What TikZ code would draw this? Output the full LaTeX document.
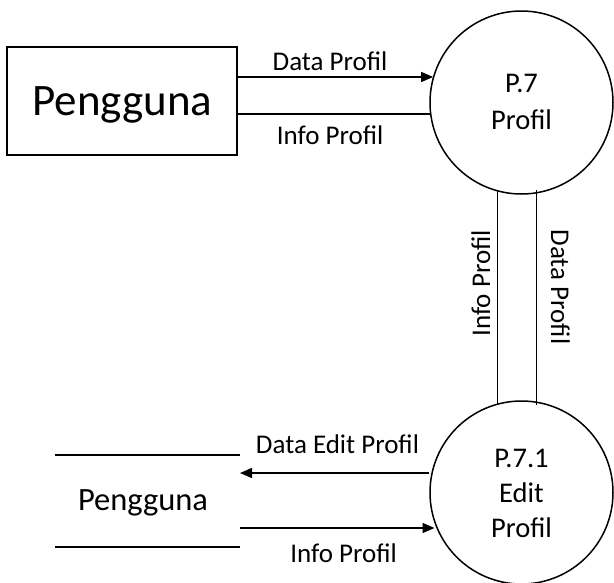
\documentclass[tikz,border=0pt]{standalone}
\usepackage{fontspec}
\setmainfont{Carlito}
\usetikzlibrary{arrows.meta,calc}
\begin{document}
\begin{tikzpicture}[x=1pt,y=-1pt,
  line width=1.5pt,
  flow/.style={-{Triangle[length=12pt,width=10pt]}},
  proc/.style={draw,circle,minimum size=183pt,inner sep=0pt},
  ptxt/.style={anchor=base,inner sep=0pt,font=\fontsize{28.5}{34}\selectfont},
  lbl/.style={anchor=base,inner sep=0pt,font=\fontsize{27}{32}\selectfont}]
\useasboundingbox (0,0) rectangle (614,582);

% external entity
\node[draw,minimum width=230pt,minimum height=108pt,inner sep=0pt] (user) at (122,101) {};
\node[anchor=base,inner sep=0pt,font=\fontsize{45}{52}\selectfont] (usertxt) at (122.5,115) {Pengguna};

% processes
\node[proc] (p7) at (521.5,102.5) {};
\node[ptxt] (p7a) at (521.5,92.5) {P.7};
\node[ptxt] (p7b) at (521.5,129) {Profil};

\node[proc] (p71) at (521.5,492.5) {};
\node[ptxt] (p71a) at (521.5,467) {P.7.1};
\node[ptxt] (p71b) at (521.5,502) {Edit};
\node[ptxt] (p71c) at (521.5,537) {Profil};

% data store
\coordinate (s1a) at (55,455);
\coordinate (s1b) at (240,455);
\coordinate (s2a) at (55,547);
\coordinate (s2b) at (240,547);
\draw (s1a) -- (s1b);
\draw (s2a) -- (s2b);
\node[anchor=base,inner sep=0pt,font=\fontsize{32.5}{38}\selectfont] (store) at (143,510) {Pengguna};

% flows between entity and P.7
\draw[flow] (user.east |- 0,77) -- ($(p7.center)+(-88.4,-25.5)$);
\draw (user.east |- 0,114) -- ($(p7.center)+(-91.5,11.5)$);
\node[lbl] (l1) at (330,70) {Data Profil};
\node[lbl] (l2) at (330,144) {Info Profil};

% flows between P.7 and P.7.1
\draw (497.5,190) coordinate (a1) -- (497.5,405) coordinate (a2);
\draw (536.5,190) coordinate (b1) -- (536.5,405) coordinate (b2);
\node[lbl,rotate=90] (l3) at (490,283.5) {Info Profil};
\node[lbl,rotate=-90] (l4) at (551,287) {Data Profil};

% flows between P.7.1 and store
\coordinate (dEnd) at (240,473);
\coordinate (iStart) at (240,528);
\draw[flow] (p71.west |- 0,473) -- (dEnd);
\draw[flow] (iStart) -- ($(p71.center)+(-87,35.5)$);
\node[lbl] (l5) at (337.5,453) {Data Edit Profil};
\node[lbl] (l6) at (343.5,562) {Info Profil};
\end{tikzpicture}
\end{document}
